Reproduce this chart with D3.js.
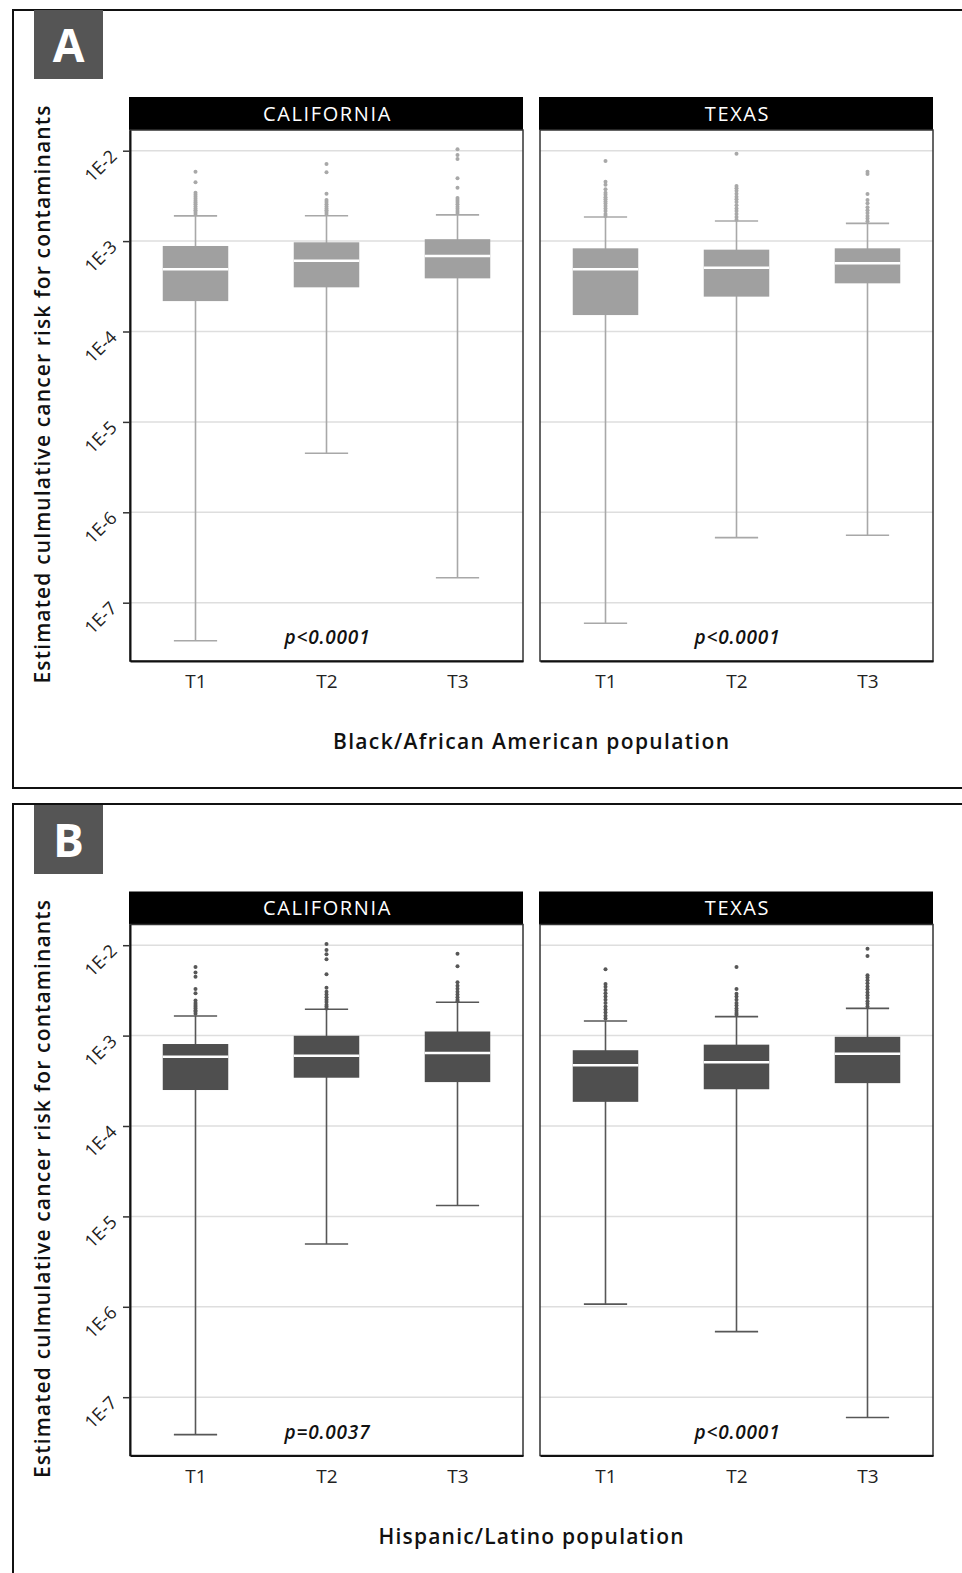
<!DOCTYPE html>
<html>
<head>
<meta charset="utf-8">
<title>Cancer risk boxplots</title>
<script src="https://d3js.org/d3.v7.min.js"></script>
<style>
  body { margin: 0; background: #fff; }
  text { font-family: "Open Sans", sans-serif; }
</style>
</head>
<body>
<div id="chart"></div>
<script>
// categories and labels
const regions = ["CALIFORNIA", "TEXAS"];
const tertiles = ["T1", "T2", "T3"];
const tickValues = [1e-2, 1e-3, 1e-4, 1e-5, 1e-6, 1e-7];
const tickLabels = ["1E-2", "1E-3", "1E-4", "1E-5", "1E-6", "1E-7"];
const yTitle = "Estimated culmulative cancer risk for contaminants";

// box stats per tertile: [lower whisker, Q1, median, Q3, upper whisker]
const blackCalifornia = [
  [3.8e-8, 2.17e-4, 4.88e-4, 8.83e-4, 1.90e-3],
  [4.5e-6, 3.08e-4, 6.07e-4, 9.7e-4, 1.91e-3],
  [1.89e-7, 3.87e-4, 6.84e-4, 1.05e-3, 1.95e-3]
];
const blackTexas = [
  [5.92e-8, 1.52e-4, 4.88e-4, 8.32e-4, 1.85e-3],
  [5.24e-7, 2.43e-4, 5.08e-4, 8.04e-4, 1.67e-3],
  [5.57e-7, 3.41e-4, 5.68e-4, 8.32e-4, 1.57e-3]
];
const hispanicCalifornia = [
  [3.85e-8, 2.5e-4, 5.83e-4, 8.07e-4, 1.65e-3],
  [4.95e-6, 3.42e-4, 5.98e-4, 9.95e-4, 1.96e-3],
  [1.32e-5, 3.06e-4, 6.41e-4, 1.11e-3, 2.34e-3]
];
const hispanicTexas = [
  [1.07e-6, 1.85e-4, 4.7e-4, 6.89e-4, 1.45e-3],
  [5.31e-7, 2.55e-4, 5.07e-4, 7.94e-4, 1.62e-3],
  [5.97e-8, 2.98e-4, 6.28e-4, 9.7e-4, 2.0e-3]
];

// outliers above the upper whisker
const blackCaliforniaOut = [
  [5.86e-3, 4.47e-3, 3.43e-3, 3.25e-3, 3.1e-3, 2.95e-3, 2.8e-3, 2.68e-3, 2.55e-3, 2.42e-3, 2.3e-3, 2.2e-3, 2.1e-3, 2.0e-3],
  [7.13e-3, 5.77e-3, 3.34e-3, 2.85e-3, 2.7e-3, 2.55e-3, 2.42e-3, 2.3e-3, 2.2e-3, 2.1e-3, 2.0e-3],
  [1.04e-2, 8.95e-3, 8.1e-3, 4.95e-3, 3.9e-3, 3.0e-3, 2.85e-3, 2.7e-3, 2.55e-3, 2.4e-3, 2.28e-3, 2.15e-3, 2.05e-3]
];
const blackTexasOut = [
  [7.7e-3, 4.54e-3, 4.2e-3, 3.74e-3, 3.43e-3, 3.25e-3, 3.05e-3, 2.9e-3, 2.75e-3, 2.6e-3, 2.45e-3, 2.3e-3, 2.15e-3, 2.0e-3, 1.9e-3],
  [9.27e-3, 4.07e-3, 3.84e-3, 3.6e-3, 3.35e-3, 3.1e-3, 2.9e-3, 2.7e-3, 2.5e-3, 2.3e-3, 2.15e-3, 2.0e-3, 1.85e-3, 1.72e-3],
  [5.86e-3, 5.52e-3, 3.32e-3, 2.85e-3, 2.62e-3, 2.37e-3, 2.2e-3, 2.05e-3, 1.9e-3, 1.78e-3, 1.66e-3]
];
const hispanicCaliforniaOut = [
  [5.75e-3, 4.98e-3, 4.49e-3, 3.28e-3, 2.94e-3, 2.44e-3, 2.3e-3, 2.18e-3, 2.08e-3, 2.0e-3, 1.9e-3, 1.84e-3, 1.75e-3],
  [1.03e-2, 8.87e-3, 7.94e-3, 7.0e-3, 4.78e-3, 3.39e-3, 3.05e-3, 2.85e-3, 2.65e-3, 2.5e-3, 2.35e-3, 2.2e-3, 2.1e-3, 2.0e-3],
  [8.02e-3, 5.85e-3, 3.89e-3, 3.55e-3, 3.3e-3, 3.05e-3, 2.85e-3, 2.65e-3, 2.5e-3, 2.4e-3]
];
const hispanicTexasOut = [
  [5.42e-3, 3.72e-3, 3.47e-3, 3.2e-3, 2.95e-3, 2.7e-3, 2.5e-3, 2.3e-3, 2.1e-3, 1.95e-3, 1.8e-3, 1.66e-3, 1.55e-3],
  [5.75e-3, 3.28e-3, 2.9e-3, 2.7e-3, 2.5e-3, 2.3e-3, 2.15e-3, 2.0e-3, 1.88e-3, 1.78e-3, 1.7e-3],
  [9.16e-3, 7.6e-3, 4.66e-3, 4.4e-3, 4.1e-3, 3.8e-3, 3.5e-3, 3.25e-3, 3.0e-3, 2.8e-3, 2.6e-3, 2.4e-3, 2.25e-3, 2.1e-3]
];

const blackPValues = ["p<0.0001", "p<0.0001"];
const hispanicPValues = ["p=0.0037", "p<0.0001"];

// figure parts
const figures = [
  { letter: "A", top: 0, fill: "#a0a0a0", line: "#a8a8a8",
    title: "Black/African American population", titleLen: 396,
    boxes: [blackCalifornia, blackTexas], outs: [blackCaliforniaOut, blackTexasOut], p: blackPValues },
  { letter: "B", top: 794.5, fill: "#4f4f4f", line: "#575757",
    title: "Hispanic/Latino population", titleLen: 305,
    boxes: [hispanicCalifornia, hispanicTexas], outs: [hispanicCaliforniaOut, hispanicTexasOut], p: hispanicPValues }
];

var W = 962, H = 1573;
var panelW = 393, plotTop = 130, plotH = 531;
var panelX = [130, 540];

var svg = d3.select("#chart").append("svg")
  .attr("width", W).attr("height", H);

var y = d3.scaleLog().domain([Math.pow(10, -7.645), Math.pow(10, -1.771)]).range([plotH, 0]);
var x = d3.scalePoint().domain(tertiles).range([0, panelW]).padding(0.5);
var step = x.step();

figures.forEach(function(fig, fi) {
  var g = svg.append("g").attr("transform", "translate(0," + fig.top + ")");

  // outer frame
  g.append("rect")
    .attr("x", 13).attr("y", fi == 0 ? 10 : 9.5)
    .attr("width", 1000).attr("height", fi == 0 ? 778 : 1000)
    .attr("fill", "none").attr("stroke", "#111").attr("stroke-width", 2);

  // letter tag
  g.append("rect").attr("x", 34).attr("y", fi == 0 ? 10 : 10.5)
    .attr("width", 69).attr("height", 69).attr("fill", "#555");
  g.append("text").attr("x", 68.5).attr("y", 62)
    .attr("text-anchor", "middle").attr("fill", "#fff")
    .style("font-size", "46px").style("font-weight", 700)
    .text(fig.letter);

  // y title
  g.append("text")
    .attr("transform", "translate(50," + (plotTop + plotH / 2 - 1) + ") rotate(-90)")
    .attr("text-anchor", "middle").attr("fill", "#111")
    .attr("textLength", 578).attr("lengthAdjust", "spacing")
    .style("font-size", "21px").style("font-weight", 600)
    .text(yTitle);

  // x title
  g.append("text").attr("x", 531).attr("y", 749)
    .attr("text-anchor", "middle").attr("fill", "#111")
    .attr("textLength", fig.titleLen).attr("lengthAdjust", "spacing")
    .style("font-size", "21px").style("font-weight", 600)
    .text(fig.title);

  regions.forEach(function(region, ri) {
    var p = g.append("g").attr("transform", "translate(" + panelX[ri] + "," + plotTop + ")");

    // strip
    p.append("rect").attr("x", -1).attr("y", -33).attr("width", panelW + 1).attr("height", 33).attr("fill", "#000");
    p.append("text").attr("x", panelW / 2 + 1).attr("y", -9.5)
      .attr("text-anchor", "middle").attr("fill", "#fff")
      .style("font-size", "20px").style("letter-spacing", "1.6px")
      .text(region);

    // grid
    p.selectAll(".grid").data(tickValues).enter().append("line")
      .attr("x1", 0).attr("x2", panelW)
      .attr("y1", d => y(d)).attr("y2", d => y(d))
      .attr("stroke", "#dedede").attr("stroke-width", 1.5);

    var boxes = fig.boxes[ri].map((b, i) => ({ t: tertiles[i], lo: b[0], q1: b[1], med: b[2], q3: b[3], hi: b[4] }));

    // whiskers
    p.selectAll(".whisker").data(boxes).enter().append("line")
      .attr("x1", d => x(d.t)).attr("x2", d => x(d.t))
      .attr("y1", d => y(d.lo)).attr("y2", d => y(d.hi))
      .attr("stroke", fig.line).attr("stroke-width", 1.6);
    ["lo", "hi"].forEach(function(k) {
      p.selectAll(".cap" + k).data(boxes).enter().append("line")
        .attr("x1", d => x(d.t) - step * 0.165).attr("x2", d => x(d.t) + step * 0.165)
        .attr("y1", d => y(d[k])).attr("y2", d => y(d[k]))
        .attr("stroke", fig.line).attr("stroke-width", 1.6);
    });

    // boxes
    p.selectAll(".box").data(boxes).enter().append("rect")
      .attr("x", d => x(d.t) - step * 0.25).attr("width", step * 0.5)
      .attr("y", d => y(d.q3)).attr("height", d => y(d.q1) - y(d.q3))
      .attr("fill", fig.fill);
    p.selectAll(".median").data(boxes).enter().append("line")
      .attr("x1", d => x(d.t) - step * 0.25).attr("x2", d => x(d.t) + step * 0.25)
      .attr("y1", d => y(d.med)).attr("y2", d => y(d.med))
      .attr("stroke", "#fff").attr("stroke-width", 2.5);

    // outliers
    fig.outs[ri].forEach(function(vals, i) {
      p.selectAll(".out" + i).data(vals).enter().append("circle")
        .attr("cx", x(tertiles[i])).attr("cy", d => y(d)).attr("r", 2)
        .attr("fill", fig.line);
    });

    // p value
    p.append("text").attr("x", panelW / 2 + 1).attr("y", plotH - 17)
      .attr("text-anchor", "middle").attr("fill", "#111")
      .style("font-size", "19px").style("font-style", "italic").style("font-weight", 600)
      .style("letter-spacing", "0.8px")
      .text(fig.p[ri]);

    // panel border
    p.append("rect").attr("width", panelW).attr("height", plotH)
      .attr("fill", "none").attr("stroke", "#333").attr("stroke-width", 1.5);

    // x axis
    var xa = p.append("g").attr("transform", "translate(0," + plotH + ")")
      .call(d3.axisBottom(x).tickSize(0).tickSizeOuter(0).tickPadding(14));
    xa.select(".domain").attr("stroke", "#111").attr("stroke-width", 2);
    xa.selectAll("text").style("font-size", "19px").attr("fill", "#222")
      .style("font-family", "'Open Sans', sans-serif");

    // y axis on left panel only
    if (ri == 0) {
      var ya = p.append("g")
        .call(d3.axisLeft(y).tickValues(tickValues).tickFormat((d, i) => tickLabels[i])
          .tickSize(7).tickSizeOuter(0));
      ya.select(".domain").attr("stroke", "#111").attr("stroke-width", 2);
      ya.selectAll(".tick line").attr("stroke", "#333").attr("stroke-width", 1.5);
      ya.selectAll(".tick text")
        .attr("transform", "rotate(-45)")
        .attr("x", -13).attr("y", -4).attr("dy", 0)
        .style("font-size", "18px").attr("fill", "#222")
        .style("font-family", "'Open Sans', sans-serif");
    }
  });
});
</script>
</body>
</html>
